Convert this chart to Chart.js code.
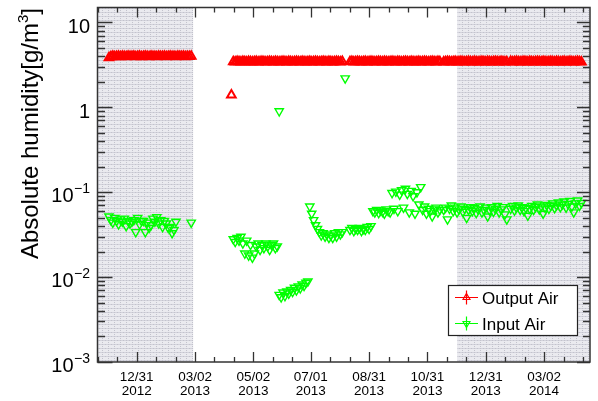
<!DOCTYPE html>
<html>
<head>
<meta charset="utf-8">
<script src="https://cdn.jsdelivr.net/npm/chart.js@4.4.0/dist/chart.umd.min.js"></script>
<style>
body { margin: 0; background: #fff; }
</style>
</head>
<body>
<canvas id="mycanvas" width="598" height="401"></canvas>
<script>
// days counted from 12/31/2012
var tickDays = [0, 61, 122, 182, 243, 304, 365, 426];
var tickLabels = [
	["12/31", "2012"], ["03/02", "2013"], ["05/02", "2013"], ["07/01", "2013"],
	["08/31", "2013"], ["10/31", "2013"], ["12/31", "2013"], ["03/02", "2014"]
];
var yDecades = [10, 1, 0.1, 0.01, 0.001];
var yDecadeExp = ["", "", "\u22121", "\u22122", "\u22123"];

// grey periods (days)
var shadedPeriods = [[-41, 59], [335, 474]];

var leftDays = [-29,-27,-25,-23,-21,-19,-17,-15,-13,-11,
	-9,-7,-5,-3,-1,1,3,5,7,9,
	11,13,15,17,19,21,23,25,27,29,
	31,33,35,37,39,41,43,45,47,49,
	51,53,55,57];

var midDays = [101,103,105,107,109,111,113,115,117,119,
	121,123,125,127,129,131,133,135,137,139,
	141,143,145,147,149,151,153,155,157,159,
	161,163,165,167,169,171,173,175,177,179,
	181,183,185,187,189,191,193,195,197,199,
	201,203,205,207,209,211,213,215,
	223,225,227,229,231,233,235,237,239,241,
	243,245,247,249,251,253,255,257,259,261,
	263,265,267,269,271,273,275,277,279,281,
	283,285,287,289,291,293,295,297,299,301,
	303,305,307,309,311,313,315,317,
	321,323,325,327,329,331,333,335,337,339,
	341,343,345,347,349,351,353,355,357,359,
	361,363,365,367,369,371,373,375,377,379,
	381,383,385,387,
	391,393,395,397,399,401,403,405,407,409,
	411,413,415,417,419,421,423,425,427,429,
	431,433,435,437,439,441,443,445,447,449,
	451,453,455,457,459,461,463,465];

var outputLeft = [3.85,3.95,4.0,3.95,3.98,4.0,3.95,4.0,3.97,3.95,
	4.0,3.96,3.98,4.0,3.95,3.97,4.0,3.95,3.98,4.0,
	3.96,3.95,4.0,3.97,3.98,3.95,4.0,3.96,3.98,4.0,
	3.95,3.97,4.0,3.96,3.98,3.95,4.0,3.97,3.96,4.0,
	3.95,3.98,3.96,4.0];

var outputMid = [3.45,3.43,3.46,3.44,3.42,3.46,3.45,3.43,3.47,3.44,
	3.42,3.45,3.46,3.43,3.44,3.47,3.45,3.42,3.44,3.46,
	3.45,3.43,3.46,3.44,3.42,3.45,3.47,3.44,3.43,3.46,
	3.45,3.42,3.44,3.46,3.45,3.43,3.47,3.44,3.42,3.45,
	3.46,3.43,3.44,3.47,3.45,3.42,3.44,3.46,3.45,3.43,
	3.46,3.44,3.42,3.45,3.47,3.44,3.43,3.46,
	3.44,3.46,3.43,3.45,3.47,3.44,3.42,3.45,3.46,3.43,
	3.44,3.47,3.45,3.42,3.44,3.46,3.45,3.43,3.46,3.44,
	3.42,3.45,3.47,3.44,3.43,3.46,3.45,3.42,3.44,3.46,
	3.45,3.43,3.47,3.44,3.42,3.45,3.46,3.43,3.44,3.47,
	3.45,3.42,3.44,3.46,3.45,3.43,3.46,3.44,
	3.43,3.45,3.47,3.44,3.42,3.45,3.46,3.43,3.44,3.47,
	3.45,3.42,3.44,3.46,3.45,3.43,3.46,3.44,3.42,3.45,
	3.47,3.44,3.43,3.46,3.45,3.42,3.44,3.46,3.45,3.43,
	3.47,3.44,3.42,3.45,
	3.46,3.43,3.44,3.47,3.45,3.42,3.44,3.46,3.45,3.43,
	3.46,3.44,3.42,3.45,3.47,3.44,3.43,3.46,3.45,3.42,
	3.44,3.46,3.45,3.43,3.47,3.44,3.42,3.45,3.46,3.43,
	3.44,3.47,3.45,3.42,3.44,3.46,3.45,3.43];

var inputLeft = [0.052,0.047,0.044,0.050,0.046,0.042,0.048,0.045,0.049,0.040,
	0.046,0.043,0.045,0.047,0.034,0.050,0.042,0.046,0.046,0.034,
	0.044,0.038,0.041,0.049,0.045,0.051,0.043,0.047,0.039,0.046,
	0.043,0.038,0.039,0.033,0.036,0.045,null,null,null,null,
	null,null,null,0.044];

var inputMid = [0.028,0.026,0.029,0.027,0.030,0.025,0.019,0.027,0.018,0.024,
	0.017,0.019,0.023,0.025,0.021,0.024,0.022,0.025,0.023,0.021,
	0.024,0.025,0.022,0.023,0.0062,0.0058,0.0066,0.0060,0.0068,0.0064,
	0.0071,0.0067,0.0075,0.0070,0.0078,0.0074,0.0082,0.0079,0.0086,0.0089,
	0.068,0.056,0.047,0.041,0.037,0.034,0.031,0.033,0.030,0.032,
	0.029,0.031,0.029,0.033,0.030,0.034,0.032,0.034,
	0.036,0.038,0.035,0.037,0.036,0.038,0.035,0.037,0.036,0.039,
	0.037,0.040,0.060,0.058,0.062,0.057,0.061,0.059,0.056,0.063,
	0.060,0.058,0.098,0.064,0.102,0.060,0.094,0.106,0.066,0.110,
	0.096,0.058,0.104,0.090,0.056,0.100,0.072,0.115,0.062,0.068,
	0.056,0.064,0.060,0.052,0.063,0.066,0.058,0.062,
	0.062,0.066,0.048,0.064,0.070,0.060,0.066,0.058,0.063,0.068,
	0.059,0.064,0.050,0.062,0.067,0.060,0.065,0.057,0.063,0.068,
	0.058,0.062,0.066,0.052,0.061,0.067,0.059,0.064,0.069,0.058,
	0.063,0.067,0.055,0.048,
	0.064,0.069,0.061,0.066,0.070,0.062,0.067,0.060,0.065,0.053,
	0.064,0.069,0.062,0.067,0.072,0.063,0.068,0.056,0.066,0.071,
	0.064,0.069,0.074,0.065,0.070,0.076,0.067,0.072,0.078,0.066,
	0.073,0.079,0.068,0.058,0.074,0.080,0.069,0.075];

// single odd readings
var outputOddDays = [99];
var outputOddVals = [1.40];
var inputOddDays = [149, 218];
var inputOddVals = [0.90, 2.2];

var xMin = -41, xMax = 474;
var yMin = 0.001, yMax = 15;
var FONT = '"Liberation Sans", Arial, Helvetica, sans-serif';

function toPoints(days, vals, pts) {
	for (var i = 0; i < days.length; i++) {
		if (vals[i] !== null) pts.push({x: days[i], y: vals[i]});
	}
	return pts;
}

var outputPts = [];
toPoints(leftDays, outputLeft, outputPts);
toPoints(midDays, outputMid, outputPts);
toPoints(outputOddDays, outputOddVals, outputPts);

var inputPts = [];
toPoints(leftDays, inputLeft, inputPts);
toPoints(midDays, inputMid, inputPts);
toPoints(inputOddDays, inputOddVals, inputPts);

function shadePattern(ctx) {
	var c = document.createElement('canvas');
	c.width = 6; c.height = 4;
	var g = c.getContext('2d');
	g.fillStyle = '#eaeaef';
	g.fillRect(0, 0, 6, 4);
	g.fillStyle = '#d3d3dc';
	g.fillRect(0, 0, 6, 1);
	g.fillStyle = '#c2c2cc';
	g.fillRect(0, 0, 1, 1);
	g.fillRect(0, 2, 1, 1);
	g.fillRect(3, 0, 1, 1);
	return ctx.createPattern(c, 'repeat');
}

function triangle(ctx, x, y, r, down, color) {
	ctx.save();
	ctx.strokeStyle = color;
	ctx.lineWidth = 1.2;
	ctx.beginPath();
	var s = down ? -1 : 1;
	ctx.moveTo(x, y - s * r);
	ctx.lineTo(x + r * 0.866, y + s * r * 0.5);
	ctx.lineTo(x - r * 0.866, y + s * r * 0.5);
	ctx.closePath();
	ctx.stroke();
	ctx.restore();
}

var deco = {
	id: 'deco',
	beforeDatasetsDraw: function(chart) {
		var ctx = chart.ctx, a = chart.chartArea, xs = chart.scales.x;
		ctx.save();
		ctx.fillStyle = shadePattern(ctx);
		shadedPeriods.forEach(function(p) {
			var x1 = Math.max(a.left, xs.getPixelForValue(p[0]));
			var x2 = Math.min(a.right, xs.getPixelForValue(p[1]));
			ctx.fillRect(x1, a.top, x2 - x1, a.bottom - a.top);
		});
		ctx.restore();
	},
	afterDatasetsDraw: function(chart) {
		var ctx = chart.ctx, a = chart.chartArea;
		var xs = chart.scales.x, ys = chart.scales.y;
		ctx.save();
		ctx.strokeStyle = '#333';
		ctx.lineWidth = 1.3;

		// x ticks, bottom and top, pointing inwards
		var step = (tickDays[1] - tickDays[0]) / 3;
		var minors = [];
		for (var i = 0; i < tickDays.length - 1; i++) {
			var d = (tickDays[i + 1] - tickDays[i]) / 3;
			minors.push(tickDays[i] + d, tickDays[i] + 2 * d);
		}
		minors.push(tickDays[0] - step, tickDays[0] - 2 * step);
		var last = tickDays[tickDays.length - 1];
		minors.push(last + step, last + 2 * step);
		ctx.beginPath();
		tickDays.forEach(function(t) {
			var px = Math.round(xs.getPixelForValue(t)) + 0.5;
			ctx.moveTo(px, a.bottom); ctx.lineTo(px, a.bottom - 10);
			ctx.moveTo(px, a.top); ctx.lineTo(px, a.top + 10);
		});
		minors.forEach(function(t) {
			if (t <= xMin || t >= xMax) return;
			var px = Math.round(xs.getPixelForValue(t)) + 0.5;
			ctx.moveTo(px, a.bottom); ctx.lineTo(px, a.bottom - 5);
			ctx.moveTo(px, a.top); ctx.lineTo(px, a.top + 5);
		});
		// y ticks
		yDecades.forEach(function(v) {
			var py = Math.round(ys.getPixelForValue(v)) + 0.5;
			ctx.moveTo(a.left, py); ctx.lineTo(a.left + 15, py);
			ctx.moveTo(a.right, py); ctx.lineTo(a.right - 13, py);
			for (var m = 2; m <= 9; m++) {
				var mv = v * m;
				if (mv > yMax) break;
				var pm = Math.round(ys.getPixelForValue(mv)) + 0.5;
				ctx.moveTo(a.left, pm); ctx.lineTo(a.left + 7.5, pm);
				ctx.moveTo(a.right, pm); ctx.lineTo(a.right - 7, pm);
			}
		});
		ctx.stroke();

		// frame
		ctx.lineWidth = 1.5;
		ctx.strokeRect(a.left, a.top, a.right - a.left, a.bottom - a.top);

		// x labels
		ctx.fillStyle = '#000';
		ctx.font = '13.5px ' + FONT;
		ctx.textAlign = 'center';
		ctx.textBaseline = 'alphabetic';
		tickDays.forEach(function(t, i) {
			var px = xs.getPixelForValue(t);
			ctx.fillText(tickLabels[i][0], px, 381);
			ctx.fillText(tickLabels[i][1], px, 395);
		});

		// y labels
		ctx.textAlign = 'right';
		yDecades.forEach(function(v, i) {
			var py = ys.getPixelForValue(v);
			var right = 90;
			if (yDecadeExp[i]) {
				ctx.font = '14px ' + FONT;
				ctx.fillText(yDecadeExp[i], right, py + 0.5);
				right -= ctx.measureText(yDecadeExp[i]).width + 0.5;
				ctx.font = '20px ' + FONT;
				ctx.fillText('10', right, py + 10);
			} else {
				ctx.font = '20px ' + FONT;
				ctx.fillText(i === 0 ? '10' : '1', right, py + 11);
			}
		});

		// y title
		var t1 = 'Absolute humidity[g/m', t2 = '3', t3 = ']';
		ctx.font = '24px ' + FONT;
		var w1 = ctx.measureText(t1).width, w3 = ctx.measureText(t3).width;
		ctx.font = '15px ' + FONT;
		var w2 = ctx.measureText(t2).width;
		var total = w1 + w2 + w3;
		ctx.save();
		ctx.translate(38, 8 + total);
		ctx.rotate(-Math.PI / 2);
		ctx.textAlign = 'left';
		ctx.font = '24px ' + FONT;
		ctx.fillText(t1, 0, 0);
		ctx.fillText(t3, w1 + w2, 0);
		ctx.font = '15px ' + FONT;
		ctx.fillText(t2, w1, -10);
		ctx.restore();

		// legend
		ctx.fillStyle = '#fff';
		ctx.fillRect(448, 285, 129, 50);
		ctx.lineWidth = 1.2;
		ctx.strokeStyle = '#222';
		ctx.strokeRect(448.5, 285.5, 129, 50);
		var rows = [
			{label: chart.data.datasets[0].label, color: '#ff0000', y: 297.5, down: false},
			{label: chart.data.datasets[1].label, color: '#00ff00', y: 323.5, down: true}
		];
		rows.forEach(function(r) {
			ctx.strokeStyle = r.color;
			ctx.lineWidth = 1.2;
			ctx.beginPath();
			ctx.moveTo(455, r.y); ctx.lineTo(478, r.y);
			ctx.moveTo(466.5, r.y - 7); ctx.lineTo(466.5, r.y + 7);
			ctx.stroke();
			triangle(ctx, 466.5, r.y, 4, r.down, r.color);
			ctx.fillStyle = '#000';
			ctx.font = '17px ' + FONT;
			ctx.textAlign = 'left';
			ctx.fillText(r.label, 482, r.y + 6);
		});
		ctx.restore();
	}
};

var ctx = document.getElementById('mycanvas');
var chart = new Chart(ctx, {
	type: 'scatter',
	data: {
		datasets: [
			{
				label: 'Output Air',
				data: outputPts,
				showLine: false,
				pointStyle: 'triangle',
				pointRadius: 5,
				pointBorderWidth: 2,
				borderColor: '#ff0000',
				pointBorderColor: '#ff0000',
				backgroundColor: 'rgba(0,0,0,0)',
				pointBackgroundColor: 'rgba(0,0,0,0)'
			},
			{
				label: 'Input Air',
				data: inputPts,
				showLine: false,
				pointStyle: 'triangle',
				pointRotation: 180,
				pointRadius: 4.8,
				pointBorderWidth: 1.4,
				borderColor: '#00ff00',
				pointBorderColor: '#00ff00',
				backgroundColor: 'rgba(0,0,0,0)',
				pointBackgroundColor: 'rgba(0,0,0,0)'
			}
		]
	},
	options: {
		responsive: false,
		animation: false,
		events: [],
		layout: { padding: { left: 97.5, right: 8, top: 7.5, bottom: 39 } },
		plugins: {
			legend: { display: false },
			tooltip: { enabled: false }
		},
		scales: {
			x: { type: 'linear', display: false, min: xMin, max: xMax },
			y: { type: 'logarithmic', display: false, min: yMin, max: yMax }
		}
	},
	plugins: [deco]
});
</script>
</body>
</html>
